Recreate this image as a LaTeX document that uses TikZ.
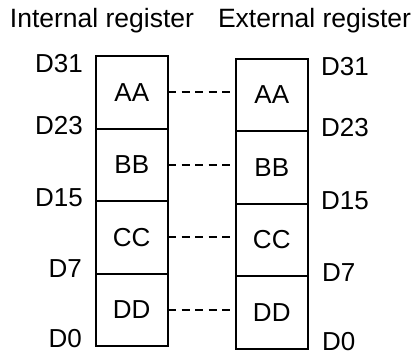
\documentclass[tikz,border=0pt]{standalone}
\usepackage{fontspec}
\setmainfont{Liberation Sans}
\usetikzlibrary{positioning}

\begin{document}
\begin{tikzpicture}[
    x=1pt, y=-1pt,
    cell/.style={rectangle, draw, line width=2pt, outer sep=0pt, minimum width=72.5pt, minimum height=72.5pt, font=\fontsize{26}{30}\selectfont},
    bitlabel/.style={inner sep=0pt, font=\fontsize{26}{30}\selectfont},
    heading/.style={inner sep=0pt, font=\fontsize{26.5}{30}\selectfont},
    link/.style={dashed, dash pattern=on 8pt off 5.5pt, line width=1.8pt}
]
\useasboundingbox (0,0) rectangle (417,356);

% Headings
\node[heading, anchor=base] (inhead) at (102,27.5) {Internal register};
\node[heading, anchor=base] (exhead) at (314.5,27.5) {External register};

% Internal register
\node[cell] (inAA) at (131.75,92.25) {AA};
\node[cell, below=0pt of inAA] (inBB) {BB};
\node[cell, below=0pt of inBB] (inCC) {CC};
\node[cell, below=0pt of inCC] (inDD) {DD};

% External register
\node[cell] (exAA) at (271.75,94.75) {AA};
\node[cell, below=0pt of exAA] (exBB) {BB};
\node[cell, below=0pt of exBB] (exCC) {CC};
\node[cell, below=0pt of exCC] (exDD) {DD};

% Bit labels
\node[bitlabel, anchor=east] (inD31) at (83,64) {D31};
\node[bitlabel, anchor=east] (inD23) at (83,126) {D23};
\node[bitlabel, anchor=east] (inD15) at (83,197.5) {D15};
\node[bitlabel, anchor=east] (inD7) at (82,269) {D7};
\node[bitlabel, anchor=east] (inD0) at (82,339) {D0};

\node[bitlabel, anchor=west] (exD31) at (321,67) {D31};
\node[bitlabel, anchor=west] (exD23) at (321,127.5) {D23};
\node[bitlabel, anchor=west] (exD15) at (321,201) {D15};
\node[bitlabel, anchor=west] (exD7) at (322,272.5) {D7};
\node[bitlabel, anchor=west] (exD0) at (322,342) {D0};

% Links
\draw[link] (inAA.east) -- (inAA.east -| exAA.west);
\draw[link] (inBB.east) -- (inBB.east -| exBB.west);
\draw[link] (inCC.east) -- (inCC.east -| exCC.west);
\draw[link] (inDD.east) -- (inDD.east -| exDD.west);

\end{tikzpicture}
\end{document}
